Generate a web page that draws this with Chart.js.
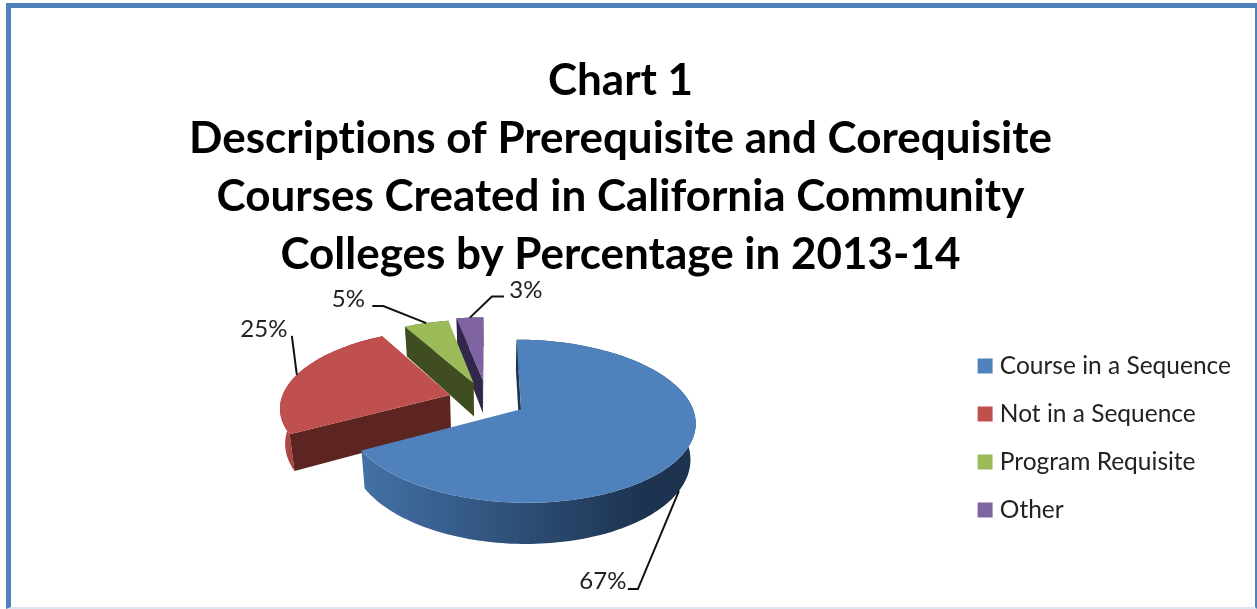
<!DOCTYPE html>
<html>
<head>
<meta charset="utf-8">
<title>Chart 1</title>
<script src="https://cdn.jsdelivr.net/npm/chart.js@4/dist/chart.umd.min.js"></script>
<style>
  html, body { margin: 0; padding: 0; background: #fff; overflow: hidden; }
  #frame {
    position: absolute; left: 6px; top: 3px; width: 1251px; height: 606px;
    box-sizing: border-box;
    border: solid #4f81bd; border-width: 5px 2px 0 5px;
    border-bottom: 2px solid #dce6f2;
  }
  canvas { position: absolute; left: 0; top: 0; }
</style>
</head>
<body>
<div id="frame"></div>
<canvas id="chart" width="1257" height="609"></canvas>
<script>
const TITLE_LINES = [
  "Chart 1",
  "Descriptions of Prerequisite and Corequisite",
  "Courses Created in California Community",
  "Colleges by Percentage in 2013-14"
]
const CATEGORIES = ["Course in a Sequence", "Not in a Sequence", "Program Requisite", "Other"]
const VALUES = [67, 25, 5, 3]
const EXPLODE = [0.23, 0.23, 0.24, 0.27]

const TOP_COLORS = ["#4f81bd", "#c0504d", "#9bbb59", "#8064a2"]
const CUT_COLORS = ["#1f3550", "#5c2522", "#3f4d20", "#31274a"]
const RIM_LIGHT = ["#4371a6", "#b34b47", "#6f8a3f", "#5f4a7c"]
const RIM_DARK = ["#1d3350", "#5c2522", "#3f4d20", "#31274a"]

// Leader lines start on the rim at each slice's bisector; offsets are px from there.
const LEADER_ON_LOWER_EDGE = [true, false, false, false]
const LEADER_BENDS = [
  [[-41, 98], [-51, 98]],
  [[-5, -39]],
  [[-43, -17], [-54, -17]],
  [[22, -21], [34, -21]]
]
const LABEL_OFFSETS = [[-76, 90], [-33, -46], [-78, -24], [56, -27]]

// Camera for the tilted pie: disc radius in px on each axis plus a bit of perspective.
const PIE = { x: 487, y: 400, rx: 169, ry: 77.1, perspective: 0.145, depth: 34.5, lowerScale: 0.975 }

function project(u, v, lower) {
  const w = 1 / (1 - PIE.perspective * v)
  const dx = PIE.rx * u * w
  const dy = PIE.ry * v * w
  if (!lower) return { x: PIE.x + dx, y: PIE.y + dy }
  return { x: PIE.x + dx * PIE.lowerScale, y: PIE.y + dy + PIE.depth * w }
}

function arcPoints(hub, start, end, lower) {
  const steps = Math.ceil((end - start) * 40)
  const pts = []
  for (let i = 0; i <= steps; i++) {
    const t = start + (end - start) * i / steps
    pts.push(project(hub.u + Math.cos(t), hub.v + Math.sin(t), lower))
  }
  return pts
}

function fillPath(ctx, pts, fill) {
  ctx.beginPath()
  pts.forEach((p, i) => (i ? ctx.lineTo(p.x, p.y) : ctx.moveTo(p.x, p.y)))
  ctx.closePath()
  ctx.fillStyle = fill
  ctx.fill()
}

function drawSlice(ctx, arc, i) {
  const mid = (arc.startAngle + arc.endAngle) / 2
  const hub = { u: EXPLODE[i] * Math.cos(mid), v: EXPLODE[i] * Math.sin(mid) }
  const top = arcPoints(hub, arc.startAngle, arc.endAngle, false)
  const bottom = arcPoints(hub, arc.startAngle, arc.endAngle, true)
  const hubTop = project(hub.u, hub.v, false)
  const hubBottom = project(hub.u, hub.v, true)

  // curved wall first, then whichever cut face looks at the viewer, then the lid
  const xs = top.map((p) => p.x)
  const rim = ctx.createLinearGradient(Math.min(...xs), 0, Math.max(...xs), 0)
  rim.addColorStop(0, RIM_LIGHT[i])
  rim.addColorStop(0.85, RIM_DARK[i])
  rim.addColorStop(1, RIM_DARK[i])
  fillPath(ctx, top.concat(bottom.slice().reverse()), rim)

  if (Math.sin(arc.startAngle - Math.PI / 2) > -0.01) {
    fillPath(ctx, [hubTop, top[0], bottom[0], hubBottom], CUT_COLORS[i])
  }
  if (Math.sin(arc.endAngle + Math.PI / 2) > -0.01) {
    fillPath(ctx, [hubTop, top[top.length - 1], bottom[bottom.length - 1], hubBottom], CUT_COLORS[i])
  }

  fillPath(ctx, [hubTop].concat(top), TOP_COLORS[i])
}

function drawLeader(ctx, arc, i) {
  const mid = (arc.startAngle + arc.endAngle) / 2
  const e = EXPLODE[i]
  const anchor = project((1 + e) * Math.cos(mid), (1 + e) * Math.sin(mid), LEADER_ON_LOWER_EDGE[i])

  ctx.beginPath()
  ctx.moveTo(anchor.x, anchor.y)
  LEADER_BENDS[i].forEach(([dx, dy]) => ctx.lineTo(anchor.x + dx, anchor.y + dy))
  ctx.strokeStyle = "#111"
  ctx.lineWidth = 2
  ctx.stroke()

  ctx.fillStyle = "#222"
  ctx.font = "24px Lato"
  ctx.textAlign = "center"
  ctx.textBaseline = "middle"
  ctx.fillText(VALUES[i] + "%", anchor.x + LABEL_OFFSETS[i][0], anchor.y + LABEL_OFFSETS[i][1])
}

// Chart.js still works out the slice angles; only the painting is replaced.
const tiltedPie = {
  id: "tiltedPie",
  beforeDraw(chart) {
    // no ligatures: the title's "ti" pairs stay as separate letters
    chart.ctx.textRendering = "optimizeSpeed"
  },
  beforeDatasetsDraw(chart) {
    const { ctx } = chart
    const arcs = chart.getDatasetMeta(0).data
    ctx.save()
    // back slices first so the big one sits on top
    for (let i = arcs.length - 1; i >= 0; i--) drawSlice(ctx, arcs[i], i)
    arcs.forEach((arc, i) => drawLeader(ctx, arc, i))
    ctx.restore()
    return false
  }
}

new Chart(document.getElementById("chart"), {
  type: "pie",
  plugins: [tiltedPie],
  data: {
    labels: CATEGORIES,
    datasets: [{
      data: VALUES,
      backgroundColor: TOP_COLORS,
      // only the legend uses these: a small box with a thick outline sits closer to its text
      borderColor: TOP_COLORS,
      borderWidth: 10
    }]
  },
  options: {
    responsive: false,
    animation: false,
    layout: { padding: { right: 16, bottom: 17 } },
    plugins: {
      tooltip: { enabled: false },
      title: {
        display: true,
        text: TITLE_LINES,
        color: "#000",
        font: { family: "Lato", size: 44, weight: "bold", lineHeight: 1.318 },
        padding: { top: 52, bottom: 0 }
      },
      legend: {
        position: "right",
        fullSize: false,
        labels: {
          color: "#222",
          font: { family: "Lato", size: 24.5 },
          boxWidth: 5,
          boxHeight: 5,
          padding: 23.5
        }
      }
    }
  }
})
</script>
</body>
</html>
